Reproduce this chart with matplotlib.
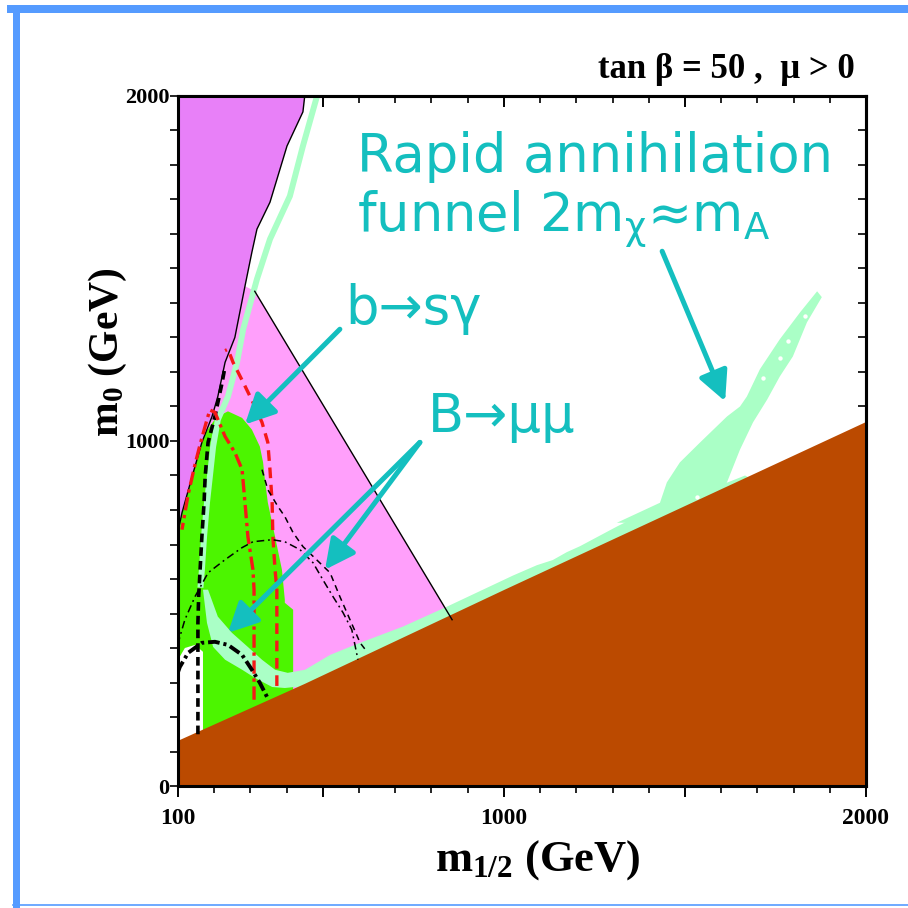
import matplotlib
matplotlib.use('Agg')
import matplotlib.pyplot as plt
from matplotlib.ticker import FixedLocator, FixedFormatter, MultipleLocator
from matplotlib.lines import Line2D
from matplotlib.patches import Rectangle

plt.rcParams['mathtext.fontset'] = 'custom'
plt.rcParams['mathtext.rm'] = 'DejaVu Sans'
plt.rcParams['mathtext.it'] = 'DejaVu Sans:italic'
plt.rcParams['mathtext.bf'] = 'Liberation Serif:bold'

SERIF = 'Liberation Serif'
TEAL = '#14bfbf'

# --- regions (m_1/2, m_0) in GeV ---
# charged (stau) LSP, excluded
m12_stau = [100, 450, 1000, 2000]
m0_stau = [133, 298, 570, 1057]

# no electroweak symmetry breaking
m12_ewsb = [100, 450, 445, 401, 354, 318, 304, 285, 257, 230, 210, 194, 166, 139, 111, 103, 100]
m0_ewsb = [2000, 2000, 1954, 1855, 1692, 1614, 1547, 1449, 1300, 1228, 1129, 1071, 996, 897, 792, 752, 740]

# g-2 favoured
m12_gm2 = [100, 100, 285, 312, 857, 857]
m0_gm2 = [100, 1449, 1449, 1434, 482, 100]

# b -> s gamma excluded
m12_bsg = [100, 100, 160, 200, 210, 238, 277, 304, 326, 335, 340, 348, 368, 387, 395, 395, 418, 418]
m0_bsg = [100, 900, 1000, 1060, 1071, 1086, 1067, 1033, 984, 938, 888, 822, 723, 627, 540, 531, 511, 100]

# LEP-excluded corner
m12_lep = [100, 100, 119, 147, 169, 169]
m0_lep = [100, 366, 400, 409, 389, 100]

# WMAP strips: coannihilation strip along the EWSB edge
m12_focus = [484, 445, 409, 354, 318, 280, 263, 238, 210, 197, 188, 180, 172, 166, 162]
m0_focus = [2000, 1855, 1710, 1585, 1469, 1324, 1228, 1129, 1062, 984, 897, 821, 723, 627, 575]

# bulk + stau coannihilation strip
m12_coann = [169, 180, 197, 230, 277, 313, 360, 395, 423, 451, 1700,
             1666, 1541, 1403, 1312, 1210, 1174, 1135, 1091, 1025, 934, 843, 721, 600, 520,
             451, 403, 368, 332, 293, 249, 210, 183]
m0_coann = [569, 473, 403, 366, 337, 313, 287, 284, 287, 280, 880,
            900, 848, 800, 752, 695, 678, 655, 640, 610, 565, 520, 462, 414, 380,
            337, 328, 337, 366, 403, 444, 491, 569]

# rapid annihilation funnel
m12_funnel = [1312, 1431, 1450, 1486, 1542, 1616, 1652, 1671, 1707, 1762, 1818, 1865, 1878,
              1837, 1798, 1762, 1727, 1688, 1652, 1616, 1588, 1569, 1495, 1431, 1356]
m0_funnel = [763, 821, 880, 938, 996, 1071, 1100, 1129, 1208, 1295, 1373, 1434, 1417,
             1344, 1245, 1187, 1120, 1054, 975, 880, 830, 792, 801, 781, 763]
m12_holes = [1533, 1785, 1832, 1762, 1715]
m0_holes = [839, 1289, 1361, 1242, 1184]

# --- contours ---
m12_chargino = [155, 155, 157, 161, 166, 172, 175, 183, 202, 222, 230]
m0_chargino = [150, 473, 548, 627, 723, 821, 897, 996, 1071, 1170, 1216]

m12_mh_dash = [373, 373, 368, 362, 360, 354, 348, 332, 307, 280, 252, 238, 230]
m0_mh_dash = [290, 569, 627, 723, 821, 917, 996, 1054, 1112, 1170, 1228, 1266, 1262]

m12_mh_dd = [310, 310, 307, 293, 285, 277, 257, 230, 202, 188, 180, 161, 147, 128, 111]
m0_mh_dd = [250, 569, 627, 723, 821, 917, 967, 1013, 1083, 1090, 1062, 990, 932, 845, 743]

m12_gm2_outer = [100, 105, 119, 147, 183, 230, 277, 307, 360, 395, 437, 473, 500, 528, 556, 580, 597]
m0_gm2_outer = [409, 432, 482, 549, 618, 656, 691, 708, 714, 708, 685, 647, 598, 549, 502, 453, 366]

m12_gm2_inner = [332, 348, 376, 395, 418, 445, 520, 547, 575, 603, 622]
m0_gm2_inner = [917, 859, 810, 781, 734, 694, 618, 549, 482, 415, 389]

m12_bmm = [100, 105, 128, 166, 202, 238, 277, 304, 326, 346]
m0_bmm = [330, 345, 386, 415, 418, 409, 380, 337, 299, 258]

fig = plt.figure(figsize=(9.08, 9.08), dpi=100)
ax = fig.add_axes([178 / 908, 1 - 786 / 908, 688 / 908, 690 / 908])
ax.set_xlim(100, 2000)
ax.set_ylim(0, 2000)

ax.fill(m12_gm2, m0_gm2, color='#ff9ffb', lw=0, zorder=1)
ax.fill(m12_bsg, m0_bsg, color='#4cf500', lw=0, zorder=2)
ax.fill(m12_lep, m0_lep, color='white', lw=0, zorder=2.5)
ax.fill(m12_ewsb, m0_ewsb, color='#e880f8', lw=0, zorder=3)
ax.plot(m12_ewsb[1:-1], m0_ewsb[1:-1], color='black', lw=1.0, zorder=6)
ax.plot(m12_gm2[3:5], m0_gm2[3:5], color='black', lw=1.0, zorder=6)

band = '#aaffc6'
ax.plot(m12_focus, m0_focus, color=band, lw=4.3, solid_capstyle='butt', zorder=4)
ax.fill(m12_coann, m0_coann, color=band, lw=0, zorder=4)
ax.fill(m12_funnel, m0_funnel, color=band, lw=0, zorder=4)
ax.scatter(m12_holes, m0_holes, s=10, color='white', lw=0, zorder=4.5)

ax.fill_between(m12_stau, 0, m0_stau, color='#bb4a00', lw=0, zorder=5)

ax.plot(m12_chargino, m0_chargino, color='black', lw=2.6, dashes=(2.4, 1.4), zorder=7)
ax.plot(m12_mh_dash, m0_mh_dash, color='#f51818', lw=2.4, dashes=(3.2, 2.0), zorder=7)
ax.plot(m12_mh_dd, m0_mh_dd, color='#f51818', lw=2.4, dashes=(4.0, 1.4, 1.0, 1.4), zorder=7)
ax.plot(m12_gm2_outer, m0_gm2_outer, color='black', lw=1.1, dashes=(5, 2.5, 1.2, 2.5), zorder=7)
ax.plot(m12_gm2_inner, m0_gm2_inner, color='black', lw=1.1, dashes=(4, 3), zorder=7)
ax.plot(m12_bmm, m0_bmm, color='black', lw=2.8, dashes=(3, 1, 0.8, 1), zorder=7)

# labels and arrows
arrow = dict(arrowstyle='-|>,head_length=0.9,head_width=0.45', color=TEAL, lw=3.6,
             mutation_scale=20, shrinkA=0, shrinkB=0)
ax.annotate('', xy=(285, 1048), xytext=(547, 1324), arrowprops=arrow, zorder=9)
ax.annotate('', xy=(238, 444), xytext=(768, 996), arrowprops=arrow, zorder=9)
ax.annotate('', xy=(506, 627), xytext=(768, 996), arrowprops=arrow, zorder=9)
ax.annotate('', xy=(1611, 1115), xytext=(1437, 1550), arrowprops=arrow, zorder=9)

ax.text(594, 1779, 'Rapid annihilation', color=TEAL, fontsize=38,
        family='DejaVu Sans', va='baseline', zorder=10)
ax.text(594, 1605, r'funnel 2m$_\mathrm{χ}$≈m$_\mathrm{A}$', color=TEAL, fontsize=38,
        family='DejaVu Sans', va='baseline', zorder=10)
ax.text(561, 1338, 'b→sγ', color=TEAL, fontsize=38, family='DejaVu Sans',
        va='baseline', zorder=10)
ax.text(790, 1025, 'B→μμ', color=TEAL, fontsize=38, family='DejaVu Sans',
        va='baseline', zorder=10)

# axes and ticks
for s in ax.spines.values():
    s.set_linewidth(2.2)
    s.set_zorder(11)
ax.xaxis.set_major_locator(FixedLocator([100, 500, 1000, 1500, 2000]))
ax.xaxis.set_major_formatter(FixedFormatter(['100', '', '1000', '', '2000']))
ax.xaxis.set_minor_locator(MultipleLocator(100))
ax.yaxis.set_major_locator(FixedLocator([0, 1000, 2000]))
ax.yaxis.set_minor_locator(MultipleLocator(100))
ax.tick_params(axis='x', which='major', direction='out', length=8, width=1.4, pad=8)
ax.tick_params(axis='x', which='minor', direction='out', length=5, width=1.2)
ax.tick_params(axis='y', which='both', direction='out', length=6, width=1.2, pad=0)
for lab in ax.get_xticklabels():
    lab.set_fontfamily(SERIF)
    lab.set_fontweight('bold')
    lab.set_fontsize(17)
for lab in ax.get_yticklabels():
    lab.set_fontfamily(SERIF)
    lab.set_fontweight('bold')
    lab.set_fontsize(16)

top = ax.secondary_xaxis('top')
top.xaxis.set_major_locator(FixedLocator([500, 1000, 1500]))
top.xaxis.set_minor_locator(MultipleLocator(100))
top.tick_params(which='major', direction='in', length=8, width=1.4, labeltop=False)
top.tick_params(which='minor', direction='in', length=5, width=1.2)
top.spines['top'].set_linewidth(2.2)
right = ax.secondary_yaxis('right')
right.yaxis.set_major_locator(FixedLocator([1000]))
right.yaxis.set_minor_locator(MultipleLocator(100))
right.tick_params(which='both', direction='in', length=6, width=1.2, labelright=False)
right.spines['right'].set_linewidth(2.2)

fig.text(108 / 908, 1 - 352 / 908, r'$\mathbf{m_0}$ (GeV)', rotation=90, ha='center', va='center',
         fontsize=30, family=SERIF, weight='bold')
fig.text(538 / 908, 1 - 860 / 908, r'$\mathbf{m_{1/2}}$ (GeV)', ha='center', va='center',
         fontsize=32, family=SERIF, weight='bold')
fig.text(855 / 908, 1 - 78 / 908, 'tan β = 50 ,  μ > 0', ha='right', va='baseline',
         fontsize=25, family=SERIF, weight='bold')

# page frame
blue = '#559bff'
fig.add_artist(Rectangle((13 / 908, 0), 7 / 908, 1 - 5 / 908, transform=fig.transFigure,
                         color=blue, lw=0))
fig.add_artist(Rectangle((7 / 908, 1 - 13 / 908), 1, 8 / 908, transform=fig.transFigure,
                         color=blue, lw=0))
fig.add_artist(Line2D([13 / 908, 1], [3 / 908, 3 / 908], transform=fig.transFigure,
                      color=blue, lw=1.2))

fig.savefig('out.png', dpi=100)
